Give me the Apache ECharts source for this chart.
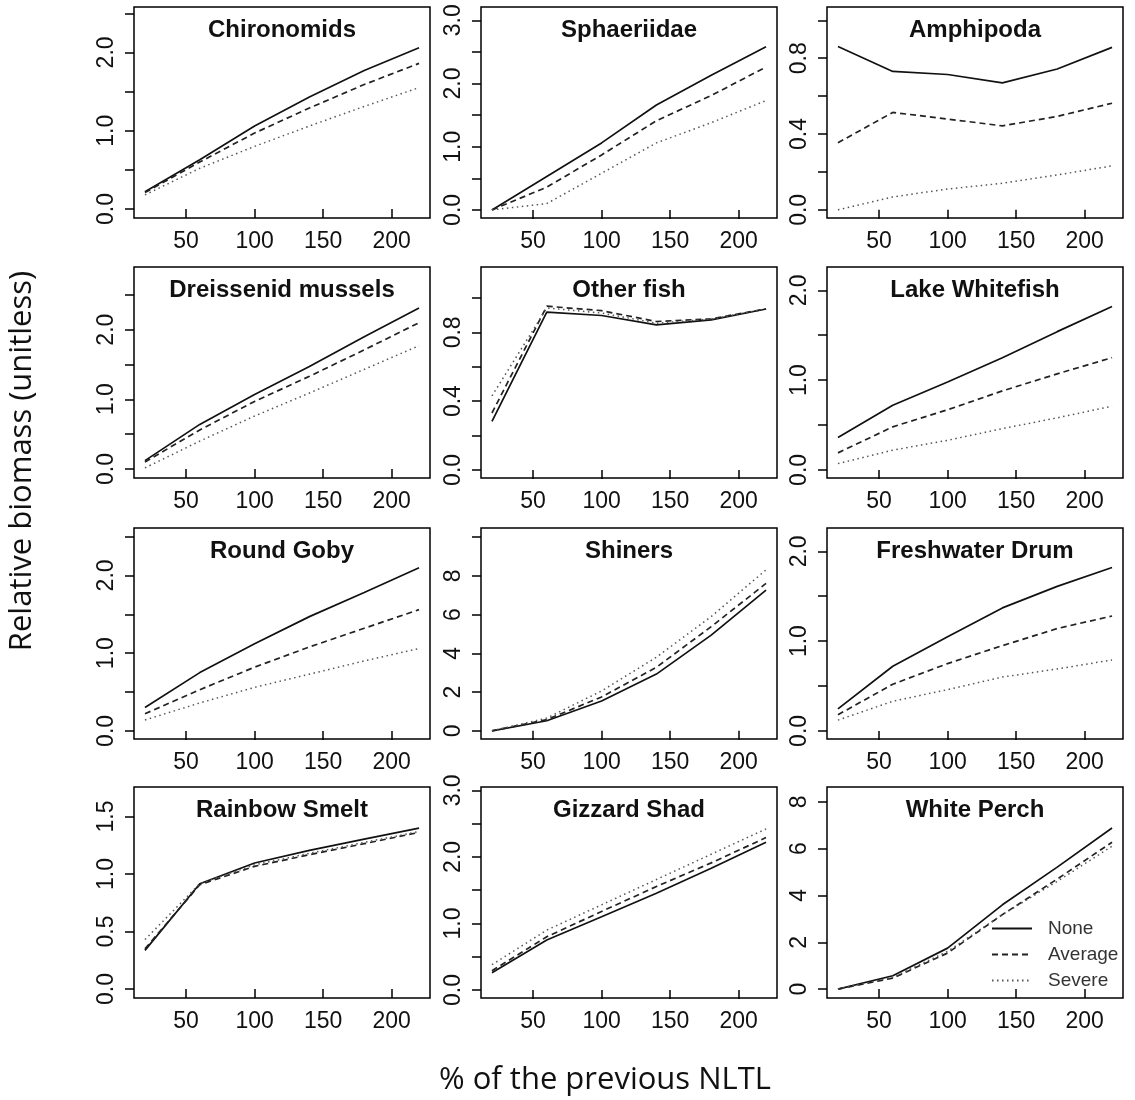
<!DOCTYPE html>
<html>
<head>
<meta charset="utf-8">
<script src="https://cdn.jsdelivr.net/npm/echarts@6/dist/echarts.min.js"></script>
<style>
  html, body { margin: 0; padding: 0; background: #fff; }
  #main { width: 1135px; height: 1100px; }
</style>
</head>
<body>
<div id="main"></div>
<script>
// x values (% of the previous NLTL)
var xValues = [20, 60, 100, 140, 180, 220];
var xTicks = [50, 100, 150, 200];

var panelNames = ['Chironomids', 'Sphaeriidae', 'Amphipoda',
  'Dreissenid mussels', 'Other fish', 'Lake Whitefish',
  'Round Goby', 'Shiners', 'Freshwater Drum',
  'Rainbow Smelt', 'Gizzard Shad', 'White Perch'];

var scenarioNames = ['None', 'Average', 'Severe'];

// relative biomass, one row per panel
var noneBiomass = [
  [0.22, 0.63, 1.06, 1.43, 1.77, 2.06],
  [0.00, 0.53, 1.06, 1.66, 2.13, 2.58],
  [0.862, 0.73, 0.714, 0.67, 0.743, 0.857],
  [0.12, 0.64, 1.07, 1.47, 1.90, 2.31],
  [0.282, 0.918, 0.898, 0.843, 0.873, 0.936],
  [0.36, 0.72, 0.98, 1.25, 1.54, 1.82],
  [0.30, 0.75, 1.12, 1.47, 1.78, 2.10],
  [0.00, 0.52, 1.54, 2.93, 4.94, 7.26],
  [0.245, 0.72, 1.05, 1.37, 1.61, 1.82],
  [0.336, 0.916, 1.096, 1.206, 1.304, 1.40],
  [0.26, 0.75, 1.10, 1.455, 1.83, 2.22],
  [0.00, 0.57, 1.75, 3.60, 5.21, 6.88]
];
var averageBiomass = [
  [0.21, 0.60, 0.97, 1.29, 1.59, 1.86],
  [0.00, 0.36, 0.87, 1.41, 1.81, 2.26],
  [0.354, 0.514, 0.479, 0.443, 0.493, 0.5625],
  [0.10, 0.56, 0.97, 1.33, 1.71, 2.10],
  [0.331, 0.952, 0.926, 0.863, 0.879, 0.936],
  [0.19, 0.48, 0.67, 0.88, 1.07, 1.25],
  [0.22, 0.53, 0.82, 1.08, 1.32, 1.56],
  [0.00, 0.58, 1.75, 3.28, 5.38, 7.61],
  [0.18, 0.52, 0.75, 0.95, 1.14, 1.28],
  [0.35, 0.907, 1.067, 1.168, 1.264, 1.362],
  [0.29, 0.80, 1.18, 1.555, 1.91, 2.29],
  [0.00, 0.47, 1.54, 3.18, 4.70, 6.27]
];
var severeBiomass = [
  [0.18, 0.52, 0.80, 1.06, 1.31, 1.55],
  [0.00, 0.10, 0.58, 1.06, 1.38, 1.73],
  [0.00, 0.068, 0.11, 0.14, 0.184, 0.232],
  [0.015, 0.40, 0.76, 1.09, 1.43, 1.77],
  [0.43, 0.942, 0.912, 0.853, 0.877, 0.936],
  [0.07, 0.22, 0.33, 0.46, 0.58, 0.71],
  [0.14, 0.36, 0.56, 0.73, 0.90, 1.06],
  [0.00, 0.66, 2.06, 3.80, 5.90, 8.31],
  [0.12, 0.33, 0.46, 0.60, 0.69, 0.79],
  [0.43, 0.916, 1.08, 1.18, 1.275, 1.37],
  [0.38, 0.90, 1.28, 1.66, 2.04, 2.42],
  [0.00, 0.50, 1.61, 3.18, 4.60, 6.10]
];

// y axis ranges, ticks and labelled ticks per panel
var yRanges = [
  [-0.115, 2.58], [-0.128, 3.21], [-0.043, 1.07],
  [-0.13, 2.9], [-0.047, 1.18], [-0.09, 2.26],
  [-0.104, 2.61], [-0.42, 10.47], [-0.09, 2.26],
  [-0.078, 1.757], [-0.12, 3.05], [-0.38, 8.63]
];
var yTicks = [
  [0, 0.5, 1, 1.5, 2, 2.5], [0, 0.5, 1, 1.5, 2, 2.5, 3], [0, 0.2, 0.4, 0.6, 0.8, 1],
  [0, 0.5, 1, 1.5, 2, 2.5], [0, 0.2, 0.4, 0.6, 0.8, 1], [0, 0.5, 1, 1.5, 2],
  [0, 0.5, 1, 1.5, 2, 2.5], [0, 2, 4, 6, 8, 10], [0, 0.5, 1, 1.5, 2],
  [0, 0.5, 1, 1.5], [0, 0.5, 1, 1.5, 2, 2.5, 3], [0, 2, 4, 6, 8]
];
var yLabels = [
  [0, 1, 2], [0, 1, 2, 3], [0, 0.4, 0.8],
  [0, 1, 2], [0, 0.4, 0.8], [0, 1, 2],
  [0, 1, 2], [0, 2, 4, 6, 8], [0, 1, 2],
  [0, 0.5, 1, 1.5], [0, 1, 2, 3], [0, 2, 4, 6, 8]
];

var myChart = echarts.init(document.getElementById('main'));

var colLeft = [134, 481, 827];
var rowTop = [7, 267, 528, 787];
var boxW = 296, boxH = 211;
var font = '"Liberation Sans", Arial, sans-serif';

var grids = [], xAxes = [], yAxes = [], titles = [], series = [];
var lineStyles = [
  { color: '#111', width: 1.7, type: 'solid' },
  { color: '#222', width: 1.7, type: [6, 4] },
  { color: '#555', width: 1.5, type: [1.5, 3.5] }
];
var allData = [noneBiomass, averageBiomass, severeBiomass];

panelNames.forEach(function (name, i) {
  var left = colLeft[i % 3], top = rowTop[Math.floor(i / 3)];
  grids.push({
    left: left, top: top, width: boxW, height: boxH,
    show: true, borderColor: '#000', borderWidth: 1.5, containLabel: false
  });
  titles.push({
    text: name,
    left: left + boxW / 2, top: top + 11,
    textAlign: 'center', padding: 0,
    textStyle: { fontFamily: font, fontWeight: 'bold', fontSize: 24, color: '#111' }
  });
  xAxes.push({
    type: 'value', gridIndex: i, min: 12, max: 228,
    axisLine: { show: false },
    axisTick: { show: true, length: 9, customValues: xTicks, lineStyle: { color: '#000', width: 1.5 } },
    axisLabel: { customValues: xTicks, margin: 12, fontFamily: font, fontSize: 23, color: '#111' },
    splitLine: { show: false }
  });
  var digits = yLabels[i][yLabels[i].length - 1] > 5 ? 0 : 1;
  yAxes.push({
    type: 'value', gridIndex: i, min: yRanges[i][0], max: yRanges[i][1],
    axisLine: { show: false },
    axisTick: { show: true, length: 9, customValues: yTicks[i], lineStyle: { color: '#000', width: 1.5 } },
    axisLabel: {
      customValues: yLabels[i], rotate: 90, margin: 16,
      fontFamily: font, fontSize: 23, color: '#111',
      formatter: function (v) { return Number(v).toFixed(digits); }
    },
    splitLine: { show: false }
  });
  scenarioNames.forEach(function (s, k) {
    series.push({
      name: s, type: 'line', xAxisIndex: i, yAxisIndex: i,
      symbol: 'none', showSymbol: false, silent: true,
      lineStyle: lineStyles[k],
      itemStyle: { color: lineStyles[k].color },
      data: xValues.map(function (x, j) { return [x, allData[k][i][j]]; })
    });
  });
});

var option = {
  animation: false,
  backgroundColor: '#fff',
  title: titles,
  grid: grids,
  xAxis: xAxes,
  yAxis: yAxes,
  legend: {
    data: scenarioNames,
    orient: 'vertical',
    left: 986, top: 913,
    itemWidth: 40, itemHeight: 14, itemGap: 5,
    selectedMode: false,
    itemStyle: { color: 'transparent', borderWidth: 0, opacity: 0 },
    textStyle: { fontFamily: font, fontSize: 19, color: '#333', padding: [0, 0, 0, 11], lineHeight: 21 }
  },
  graphic: [
    {
      type: 'text', x: 22, y: 461, rotation: Math.PI / 2,
      style: { text: 'Relative biomass (unitless)', font: '31px "Open Sans", sans-serif', fill: '#111', textAlign: 'center', textVerticalAlign: 'middle' }
    },
    {
      type: 'text', x: 605, y: 1080,
      style: { text: '% of the previous NLTL', font: '31px "Open Sans", sans-serif', fill: '#111', textAlign: 'center', textVerticalAlign: 'middle' }
    }
  ],
  series: series
};

myChart.setOption(option);
</script>
</body>
</html>
